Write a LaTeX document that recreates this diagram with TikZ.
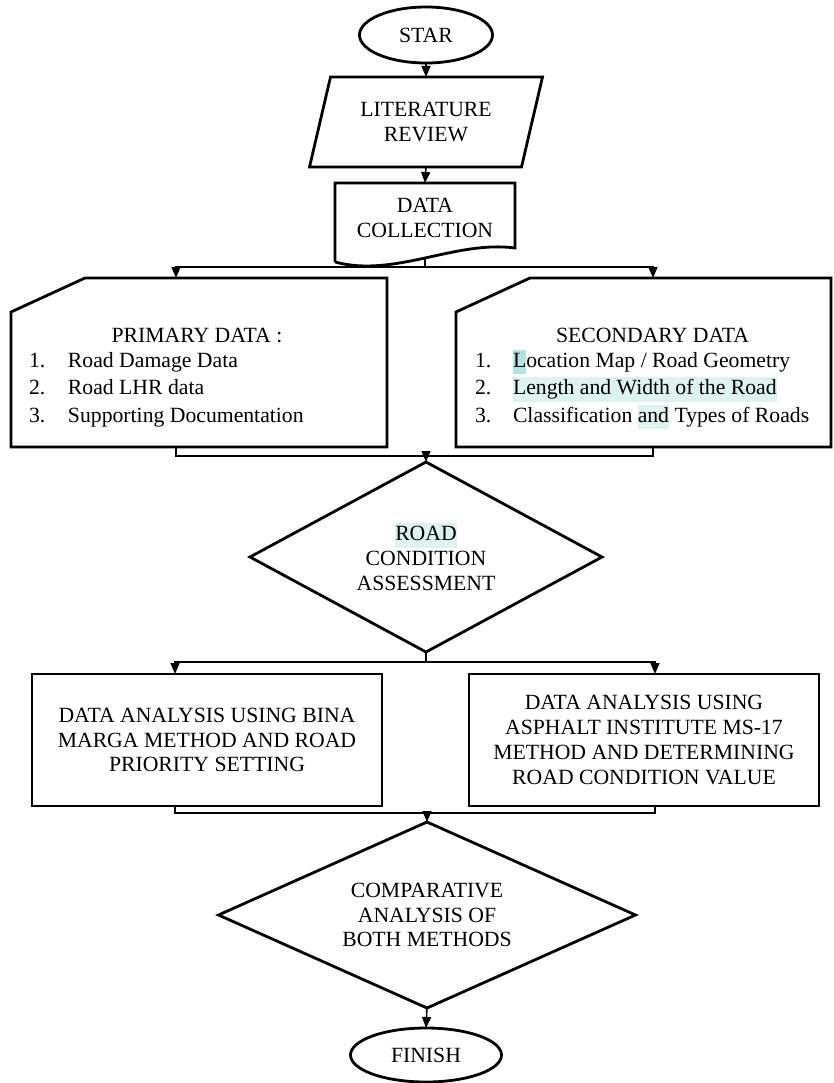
\documentclass[tikz,border=0pt]{standalone}
\usepackage{fontspec}
\setmainfont{Liberation Serif}
\usetikzlibrary{arrows.meta,calc,shapes.geometric}
\definecolor{hl}{HTML}{DDF2F1}
\definecolor{hlL}{HTML}{B3E2E0}
\newcommand{\hlt}[1]{{\setlength{\fboxsep}{0pt}\colorbox{hl}{\strut #1}}}
\newcommand{\hltL}[1]{{\setlength{\fboxsep}{0pt}\colorbox{hlL}{\strut #1}}}
\begin{document}
\begin{tikzpicture}[x=1pt,y=-1pt,
  font=\fontsize{21.7pt}{24.8pt}\selectfont,
  shapeline/.style={line width=2.8pt, line join=miter},
  conn/.style={line width=1.4pt},
  arr/.style={conn, -{Triangle[length=11pt,width=9pt]}},
  frame/.style={inner sep=0pt, outer sep=0pt, align=center},
  boxnode/.style={draw, shapeline, inner sep=0pt, outer sep=0pt, align=center},
  termnode/.style={draw, shapeline, ellipse, inner sep=0pt, outer sep=0pt},
  listnode/.style={anchor=base west, inner sep=0pt, outer sep=0pt}]
\useasboundingbox (0,0) rectangle (833,1083);

% START
\node[termnode, minimum width=133pt, minimum height=56pt] (start) at (426,35) {STAR};

% LITERATURE REVIEW (parallelogram)
\node[frame, minimum width=233pt, minimum height=90pt] (lit) at (426,122) {LITERATURE\\REVIEW};
\draw[shapeline] ([xshift=21pt]lit.north west) -- (lit.north east)
  -- ([xshift=-21pt]lit.south east) -- (lit.south west) -- cycle;

% DATA COLLECTION (document)
\node[frame, minimum width=180pt, minimum height=70pt] (dc) at (425,218) {DATA\\COLLECTION};
\draw[shapeline] ($(dc.south west)+(0,9)$) -- (dc.north west) -- (dc.north east)
  -- ($(dc.south east)+(0,-5)$)
  .. controls ($(dc.south east)+(-60,-13)$) and ($(dc.south west)+(60,25)$) .. ($(dc.south west)+(0,9)$);
\coordinate (dcb) at ($(dc.south)+(0,5)$);

% PRIMARY DATA (card)
\node[frame, minimum width=376pt, minimum height=169pt] (pd) at (199,362.5) {};
\draw[shapeline] ([xshift=74pt]pd.north west) -- (pd.north east) -- (pd.south east)
  -- (pd.south west) -- ([yshift=-34pt]pd.north west) -- cycle;
\node[anchor=base, inner sep=0pt] (pdt) at (197,342) {PRIMARY DATA :};
\node[listnode] (pdl) at (29,367) {\renewcommand{\arraystretch}{1.11}%
  \begin{tabular}[t]{@{}p{39pt}@{}l@{}}
  1. & Road Damage Data\\
  2. & Road LHR data\\
  3. & Supporting Documentation
  \end{tabular}};

% SECONDARY DATA (card)
\node[frame, minimum width=375pt, minimum height=169pt] (sd) at (643.5,362.5) {};
\draw[shapeline] ([xshift=74pt]sd.north west) -- (sd.north east) -- (sd.south east)
  -- (sd.south west) -- ([yshift=-34pt]sd.north west) -- cycle;
\node[anchor=base, inner sep=0pt] (sdt) at (652.5,342) {SECONDARY DATA};
\node[listnode] (sdl) at (475,367) {\renewcommand{\arraystretch}{1.11}%
  \begin{tabular}[t]{@{}p{38pt}@{}l@{}}
  1. & \hltL{L}ocation Map / Road Geometry\\
  2. & \hlt{Length and Width of the Road}\\
  3. & Classification \hlt{and} Types of Roads
  \end{tabular}};

% ROAD CONDITION ASSESSMENT (diamond)
\node[frame, minimum width=352pt, minimum height=190pt] (rca) at (426,557) {\hlt{ROAD}\\CONDITION\\ASSESSMENT};
\draw[shapeline] (rca.north) -- (rca.east) -- (rca.south) -- (rca.west) -- cycle;

% analysis boxes
\node[boxnode, minimum width=350pt, minimum height=132pt] (ba) at (207,740)
  {DATA ANALYSIS USING BINA\\MARGA METHOD AND ROAD\\PRIORITY SETTING};
\node[boxnode, minimum width=350pt, minimum height=132pt] (ms) at (644,740)
  {DATA ANALYSIS USING\\ASPHALT INSTITUTE MS-17\\METHOD AND DETERMINING\\ROAD CONDITION VALUE};

% COMPARATIVE ANALYSIS (diamond)
\node[frame, minimum width=417pt, minimum height=186pt] (cmp) at (427,915) {COMPARATIVE\\ANALYSIS OF\\BOTH METHODS};
\draw[shapeline] (cmp.north) -- (cmp.east) -- (cmp.south) -- (cmp.west) -- cycle;

% FINISH
\node[termnode, minimum width=151pt, minimum height=54pt] (fin) at (426,1055) {FINISH};

% junction coordinates
\coordinate (j1) at (425,267);
\coordinate (pin) at ($(pd.north west)+(165,0)$);
\coordinate (sin) at ($(sd.north west)+(197,0)$);
\coordinate (pout) at ($(pd.south west)+(165,0)$);
\coordinate (sout) at ($(sd.south west)+(197,0)$);
\coordinate (j2) at (426,456);
\coordinate (j3) at (426,662);
\coordinate (lin) at ($(ba.north west)+(143,0)$);
\coordinate (rin) at ($(ms.north west)+(186,0)$);
\coordinate (bout) at ($(ba.south west)+(143,0)$);
\coordinate (mout) at ($(ms.south west)+(186,0)$);
\coordinate (j4) at (427,813);

% connectors
\draw[arr] (start.south) -- (lit.north);
\draw[arr] (lit.south) -- (dc.north);
\draw[conn] (dcb) -- (j1);
\draw[arr] (j1) -| (pin);
\draw[arr] (j1) -| (sin);
\draw[conn] (pout) |- (j2);
\draw[conn] (sout) |- (j2);
\draw[arr] (j2) -- (rca.north);
\draw[conn] (rca.south) -- (j3);
\draw[arr] (j3) -| (lin);
\draw[arr] (j3) -| (rin);
\draw[conn] (bout) |- (j4);
\draw[conn] (mout) |- (j4);
\draw[arr] (j4) -- (cmp.north);
\draw[arr] (cmp.south) -- (fin.north);
\end{tikzpicture}
\end{document}
